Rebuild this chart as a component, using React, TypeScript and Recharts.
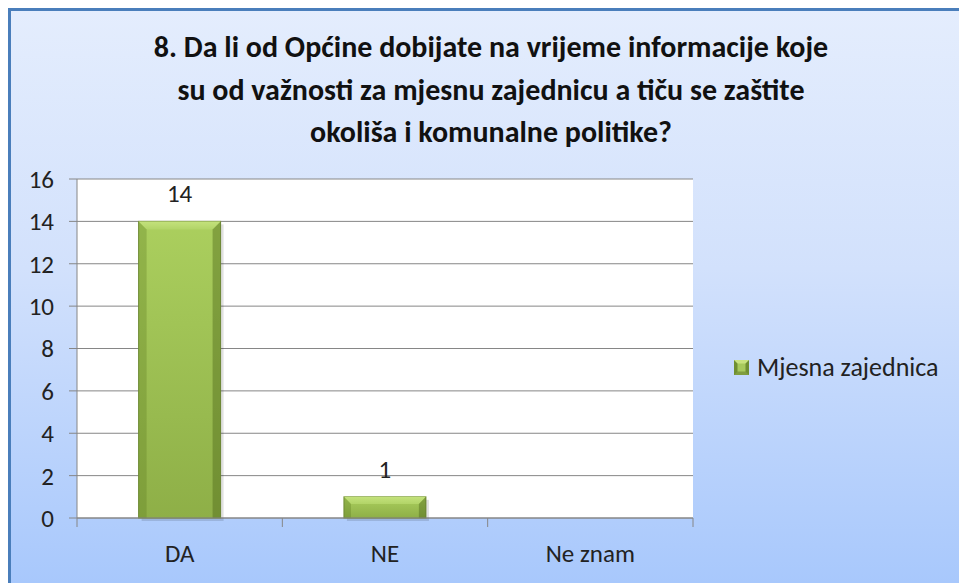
import React from "react";
import { BarChart, Bar, XAxis, YAxis, CartesianGrid, LabelList } from "recharts";

const categories = ["DA", "NE", "Ne znam"];
const values = [14, 1, 0];
const yTicks = [0, 2, 4, 6, 8, 10, 12, 14, 16];
const seriesName = "Mjesna zajednica";
const titleLines = [
  "8. Da li od Općine dobijate na vrijeme informacije koje",
  "su od važnosti za mjesnu zajednicu a tiču se zaštite",
  "okoliša i komunalne politike?",
];

const data = categories.map((c, i) => ({ name: c, value: values[i] }));

const FONT = "Carlito, Calibri, 'Open Sans', sans-serif";
const W = 948;
const H = 572;
const M = { top: 168, right: 266, bottom: 35, left: 0 };
const BAND = (W - 66 - M.right) / categories.length;

function BevelBar(props: any) {
  const { x, y, width, height } = props;
  if (!height || height <= 0) return null;
  const b = Math.min(8, height / 3);
  return (
    <g>
      <rect x={x + 3} y={y + 3} width={width} height={height} fill="rgba(0,0,0,0.12)" />
      <rect x={x} y={y} width={width} height={height} fill="url(#barBody)" stroke="#76913c" strokeWidth={1} />
      <polygon
        points={`${x},${y} ${x + width},${y} ${x + width - b},${y + b} ${x + b},${y + b}`}
        fill="url(#barTop)"
      />
      <polygon
        points={`${x},${y} ${x + b},${y + b} ${x + b},${y + height} ${x},${y + height}`}
        fill="rgba(90,120,30,0.3)"
      />
      <polygon
        points={`${x + width},${y} ${x + width - b},${y + b} ${x + width - b},${y + height} ${x + width},${y + height}`}
        fill="rgba(70,95,20,0.4)"
      />
    </g>
  );
}

function CatTick(props: any) {
  const { x, y, payload, index } = props;
  const half = BAND / 2;
  return (
    <g>
      <line x1={x - half} y1={y - 8} x2={x - half} y2={y + 1} stroke="#868686" />
      {index === categories.length - 1 && (
        <line x1={x + half} y1={y - 8} x2={x + half} y2={y + 1} stroke="#868686" />
      )}
      <text x={x} y={y + 36} textAnchor="middle" fontSize={25} fill="#222" fontFamily={FONT}>
        {payload.value}
      </text>
    </g>
  );
}

export default function App() {
  return (
    <div
      style={{
        position: "fixed",
        left: 8,
        top: 8,
        width: 951,
        height: 575,
        boxSizing: "border-box",
        borderTop: "3px solid #4a7ebb",
        borderLeft: "3px solid #4a7ebb",
        background: "linear-gradient(to bottom, #e4edfd 0%, #d2e1fc 45%, #a8c8fc 100%)",
        fontFamily: FONT,
        overflow: "hidden",
      }}
    >
      <div
        style={{
          position: "absolute",
          left: 0,
          top: 15,
          width: 960,
          textAlign: "center",
          fontSize: 30,
          fontWeight: 700,
          lineHeight: "42.5px",
          color: "#111",
        }}
      >
        {titleLines.map((l) => (
          <div key={l}>{l}</div>
        ))}
      </div>
      <BarChart width={W} height={H} data={data} margin={M} barCategoryGap="30%">
        <defs>
          <linearGradient id="barBody" x1="0" y1="0" x2="0" y2="1">
            <stop offset="0%" stopColor="#abcf5e" />
            <stop offset="100%" stopColor="#8eaf47" />
          </linearGradient>
          <linearGradient id="barTop" x1="0" y1="0" x2="0" y2="1">
            <stop offset="0%" stopColor="#c4e27c" />
            <stop offset="100%" stopColor="#b2d468" />
          </linearGradient>
        </defs>
        <CartesianGrid vertical={false} stroke="#868686" fill="#ffffff" />
        <XAxis
          dataKey="name"
          height={30}
          axisLine={{ stroke: "#868686" }}
          tickLine={false}
          tick={<CatTick />}
          interval={0}
        />
        <YAxis
          width={66}
          domain={[0, 16]}
          ticks={yTicks}
          interval={0}
          axisLine={{ stroke: "#868686" }}
          tickLine={{ stroke: "#868686" }}
          tickSize={8}
          tickMargin={15}
          tick={{ fontSize: 25, fill: "#222", fontFamily: FONT }}
        />
        <Bar dataKey="value" shape={<BevelBar />} isAnimationActive={false}>
          <LabelList
            dataKey="value"
            position="top"
            offset={19}
            fontSize={25}
            fill="#222"
            fontFamily={FONT}
            formatter={(v: any) => (v ? v : "")}
          />
        </Bar>
      </BarChart>
      <div
        style={{
          position: "absolute",
          left: 723,
          top: 340,
          display: "flex",
          alignItems: "center",
          fontSize: 26,
          color: "#222",
          whiteSpace: "nowrap",
        }}
      >
        <svg width={15} height={15} style={{ marginRight: 8 }}>
          <rect x={0} y={0} width={15} height={15} fill="#6f8f30" />
          <polygon points="0,0 15,0 7.5,7.5" fill="#c8e27e" />
          <polygon points="0,15 15,15 7.5,7.5" fill="#7f9d3e" />
          <rect x={3.5} y={3.5} width={8} height={8} fill="#a7c95c" />
        </svg>
        <span>{seriesName}</span>
      </div>
    </div>
  );
}
